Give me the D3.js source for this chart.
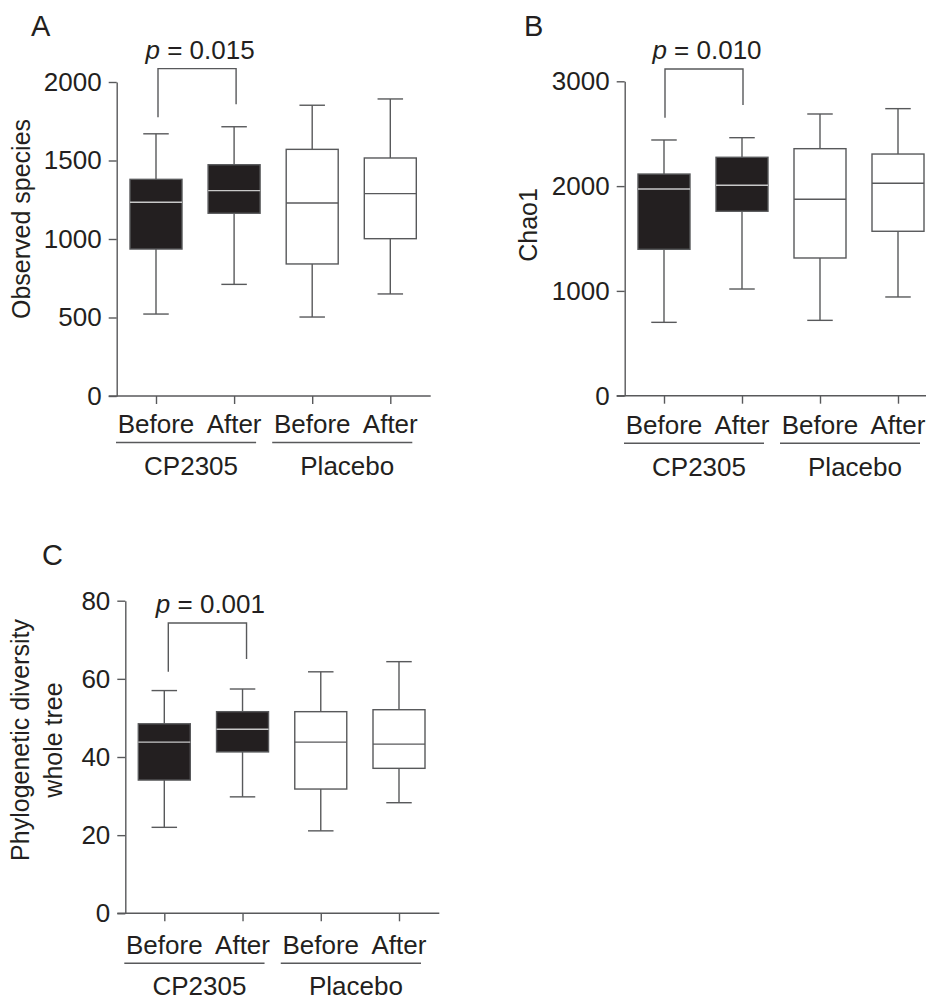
<!DOCTYPE html>
<html><head><meta charset="utf-8">
<script src="https://cdn.jsdelivr.net/npm/d3@7"></script>
<style>
body{margin:0;background:#fff;}
svg text{font-family:"Liberation Sans",Arial,Helvetica,sans-serif;fill:#231f20;}
</style></head>
<body><svg id="c" width="926" height="1000"></svg>
<script>
// ---------- DATA ----------
const timepoints = ["Before", "After"];
const groups = ["CP2305", "Placebo"];
const categories = ["CP2305 Before", "CP2305 After", "Placebo Before", "Placebo After"];
// box stats: [min, Q1, median, Q3, max]
const observedSpecies = [
  [522, 936, 1234, 1380, 1670],
  [711, 1164, 1308, 1473, 1715],
  [503, 841, 1229, 1571, 1852],
  [650, 1002, 1289, 1516, 1892]
];
const chao1 = [
  [700, 1397, 1972, 2115, 2440],
  [1018, 1760, 2008, 2275, 2462],
  [719, 1314, 1874, 2357, 2688],
  [942, 1569, 2027, 2306, 2739]
];
const phyloDiversity = [
  [22.0, 34.1, 43.8, 48.5, 57.0],
  [29.8, 41.3, 47.1, 51.6, 57.4],
  [21.1, 31.8, 43.8, 51.6, 61.8],
  [28.3, 37.1, 43.3, 52.1, 64.4]
];
const observedTicks = [0, 500, 1000, 1500, 2000];
const chao1Ticks = [0, 1000, 2000, 3000];
const phyloTicks = [0, 20, 40, 60, 80];
// significance brackets: [top, left leg end, right leg end] in data units
const observedBracket = [2085, 1775, 1858];
const chao1Bracket = [3118, 2653, 2774];
const phyloBracket = [74.3, 61.8, 65.1];
const pValues = ["0.015", "0.010", "0.001"];
const panelLetters = ["A", "B", "C"];
const yTitles = [["Observed species"], ["Chao1"], ["Phylogenetic diversity", "whole tree"]];

// ---------- LAYOUT ----------
const panels = [
  {stats: observedSpecies, ticks: observedTicks, bracket: observedBracket, p: pValues[0], letter: panelLetters[0], title: yTitles[0],
   ax: 116.7, yTop: 82, yBot: 396, x1: 156, x4: 390.3, xEnd: 430.7,
   letterX: 31, letterY: 36, titleX: [30], titleY: 219, bOff: 2,
   catDy: 37, lineDy: 46.5, grpDy: 79},
  {stats: chao1, ticks: chao1Ticks, bracket: chao1Bracket, p: pValues[1], letter: panelLetters[1], title: yTitles[1],
   ax: 624.7, yTop: 81.3, yBot: 395.7, x1: 664, x4: 898, xEnd: 940,
   letterX: 524, letterY: 36, titleX: [537], titleY: 225, bOff: 1,
   catDy: 38.5, lineDy: 47.5, grpDy: 80},
  {stats: phyloDiversity, ticks: phyloTicks, bracket: phyloBracket, p: pValues[2], letter: panelLetters[2], title: yTitles[2],
   ax: 125.3, yTop: 600.7, yBot: 913.3, x1: 164.3, x4: 399, xEnd: 439.3,
   letterX: 42, letterY: 565, titleX: [29, 62], titleY: 740, bOff: 4,
   catDy: 41, lineDy: 50, grpDy: 82}
];

const svg = d3.select("#c");
const STROKE = "#58595b";
const FS = 26;

panels.forEach(cfg => {
  const g = svg.append("g");
  const y = d3.scaleLinear().domain([cfg.ticks[0], cfg.ticks[cfg.ticks.length - 1]]).range([cfg.yBot, cfg.yTop]);
  const x = d3.scalePoint().domain(categories).range([cfg.x1, cfg.x4]);

  // y axis
  const yAxis = d3.axisLeft(y).tickValues(cfg.ticks).tickFormat(d3.format("d")).tickSize(8).tickPadding(7).tickSizeOuter(0);
  const ya = g.append("g").attr("transform", `translate(${cfg.ax},0)`).call(yAxis);
  ya.select(".domain").attr("stroke", STROKE).attr("stroke-width", 1.4);
  ya.selectAll(".tick line").attr("stroke", STROKE).attr("stroke-width", 1.4);
  ya.selectAll(".tick text").attr("font-size", FS).attr("font-family", "Liberation Sans, Arial, sans-serif").attr("fill", "#231f20");

  // x axis
  const xAxis = d3.axisBottom(x).tickSize(8).tickFormat(() => "").tickSizeOuter(0);
  const xa = g.append("g").attr("transform", `translate(0,${cfg.yBot})`).call(xAxis);
  xa.select(".domain").remove();
  xa.selectAll(".tick line").attr("stroke", STROKE).attr("stroke-width", 1.4);
  g.append("line").attr("x1", cfg.ax - 8).attr("x2", cfg.xEnd).attr("y1", cfg.yBot).attr("y2", cfg.yBot)
    .attr("stroke", STROKE).attr("stroke-width", 1.4);

  // category labels
  categories.forEach((c, i) => {
    g.append("text").attr("x", x(c)).attr("y", cfg.yBot + cfg.catDy).attr("text-anchor", "middle")
      .attr("font-size", FS).text(timepoints[i % 2]);
  });
  // group underline + label
  groups.forEach((grp, gi) => {
    const a = x(categories[gi * 2]), b = x(categories[gi * 2 + 1]);
    g.append("line").attr("x1", a - 40).attr("x2", b + 22).attr("y1", cfg.yBot + cfg.lineDy).attr("y2", cfg.yBot + cfg.lineDy)
      .attr("stroke", STROKE).attr("stroke-width", 1.4);
    g.append("text").attr("x", (a + b) / 2 - 4).attr("y", cfg.yBot + cfg.grpDy).attr("text-anchor", "middle")
      .attr("font-size", FS).text(grp);
  });

  // boxes
  const bw = 52, cw = 25.5;
  cfg.stats.forEach((s, i) => {
    const cx = x(categories[i]);
    const dark = i < 2;
    const [mn, q1, md, q3, mx] = s;
    g.append("line").attr("x1", cx).attr("x2", cx).attr("y1", y(mx)).attr("y2", y(q3)).attr("stroke", STROKE).attr("stroke-width", 1.4);
    g.append("line").attr("x1", cx).attr("x2", cx).attr("y1", y(q1)).attr("y2", y(mn)).attr("stroke", STROKE).attr("stroke-width", 1.4);
    g.append("line").attr("x1", cx - cw / 2).attr("x2", cx + cw / 2).attr("y1", y(mx)).attr("y2", y(mx)).attr("stroke", STROKE).attr("stroke-width", 1.4);
    g.append("line").attr("x1", cx - cw / 2).attr("x2", cx + cw / 2).attr("y1", y(mn)).attr("y2", y(mn)).attr("stroke", STROKE).attr("stroke-width", 1.4);
    g.append("rect").attr("x", cx - bw / 2).attr("y", y(q3)).attr("width", bw).attr("height", y(q1) - y(q3))
      .attr("fill", dark ? "#231f20" : "#fff").attr("stroke", STROKE).attr("stroke-width", 1.4);
    g.append("line").attr("x1", cx - bw / 2).attr("x2", cx + bw / 2).attr("y1", y(md)).attr("y2", y(md))
      .attr("stroke", dark ? "#c8c8c8" : STROKE).attr("stroke-width", 1.4);
  });

  // bracket
  const [bt, bl, br] = cfg.bracket;
  const lx = x(categories[0]) + cfg.bOff, rx = x(categories[1]) + cfg.bOff;
  g.append("path").attr("d", `M${lx},${y(bl)}V${y(bt)}H${rx}V${y(br)}`).attr("fill", "none")
    .attr("stroke", STROKE).attr("stroke-width", 1.4);
  const pt = g.append("text").attr("x", (lx + rx) / 2 + 3).attr("y", y(bt) - 10).attr("text-anchor", "middle").attr("font-size", FS);
  pt.append("tspan").attr("font-style", "italic").text("p");
  pt.append("tspan").text(" = " + cfg.p);

  // panel letter
  g.append("text").attr("x", cfg.letterX).attr("y", cfg.letterY).attr("font-size", 29).text(cfg.letter);

  // y title
  cfg.title.forEach((t, k) => {
    g.append("text").attr("transform", `translate(${cfg.titleX[k]},${cfg.titleY}) rotate(-90)`)
      .attr("text-anchor", "middle").attr("font-size", 25).text(t);
  });
});
</script></body></html>
